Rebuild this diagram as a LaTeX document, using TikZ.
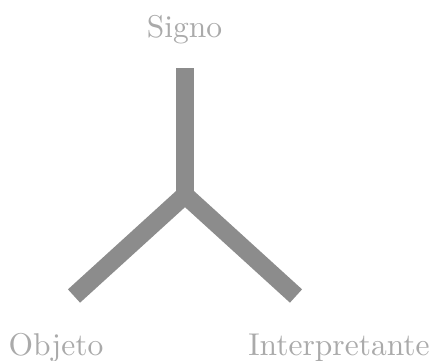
\documentclass[tikz,border=0pt]{standalone}
\usepackage{fontspec}
\setmainfont{lmroman10-regular}[Extension=.otf]
\definecolor{barcol}{RGB}{140,140,140}
\definecolor{txtcol}{RGB}{170,170,170}
\begin{document}
\begin{tikzpicture}[x=1pt,y=-1pt,
  bar/.style={draw=barcol,line width=18pt,line cap=butt,line join=miter},
  lbl/.style={text=txtcol,font=\fontsize{31.5}{31.5}\selectfont,inner sep=0pt,anchor=base}]
\useasboundingbox (0,0) rectangle (441,360);
\coordinate (top) at (185,68);
\coordinate (mid) at (185,195);
\coordinate (left) at (74,296);
\coordinate (right) at (296,296);
\draw[bar] (top) -- (mid);
\draw[bar] (left) -- (mid) -- (right);
\node[lbl] (signo) at (184.5,37) {Signo};
\node[lbl] (objeto) at (56,355) {Objeto};
\node[lbl] (interp) at (339,355) {Interpretante};
\end{tikzpicture}
\end{document}
